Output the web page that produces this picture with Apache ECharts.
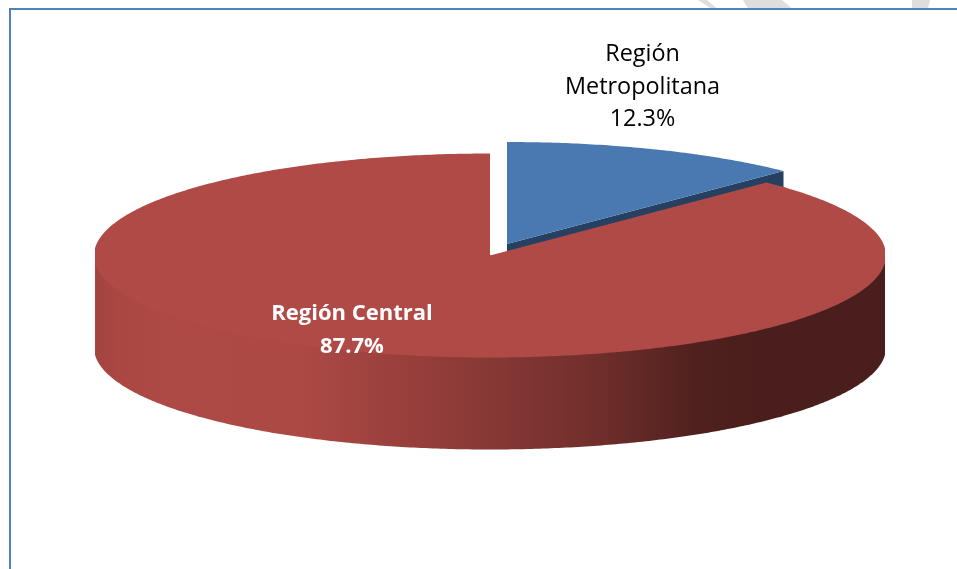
<!DOCTYPE html>
<html><head><meta charset="utf-8">
<style>html,body{margin:0;padding:0;background:#fff}#c{width:957px;height:569px}</style>
<script src="https://cdn.jsdelivr.net/npm/echarts@6/dist/echarts.min.js"></script>
</head><body><div id="c"></div>
<script>
const categories = ['Región Metropolitana', 'Región Central'];
const shares = [12.3, 87.7];
const labelLines = [['Región', 'Metropolitana', '12.3%'], ['Región Central', '87.7%']];

const TOP = ['#4a79b2', '#af4a46'];
const RX = 396, RY = 102, DEPTH = 92;
const XMIN = 95, XMAX = 885;
const CENTERS = [[507, 244], [490, 255.5]];
const total = shares.reduce((a, b) => a + b, 0);
const toAngle = v => echarts.number.linearMap(v, [0, total], [0, Math.PI * 2]);

function pt(c, a, dy) {
  const x = c[0] + RX * Math.sin(a);
  return [Math.min(XMAX, Math.max(XMIN, x)), c[1] - RY * Math.cos(a) + (dy || 0)];
}
function arc(c, a0, a1, dy) {
  const n = Math.max(2, Math.ceil(Math.abs(a1 - a0) / 0.01));
  const out = [];
  for (let i = 0; i <= n; i++) out.push(pt(c, a0 + (a1 - a0) * i / n, dy));
  return out;
}
const wall = new echarts.graphic.LinearGradient(95, 0, 885, 0, [
  {offset: 0, color: '#a3433f'},
  {offset: 0.03, color: '#aa4743'},
  {offset: 0.09, color: '#ae4a46'},
  {offset: 0.26, color: '#ad4945'},
  {offset: 0.39, color: '#993f3c'},
  {offset: 0.52, color: '#843734'},
  {offset: 0.64, color: '#6f2e2b'},
  {offset: 0.76, color: '#4f211e'},
  {offset: 0.84, color: '#4a1e1c'},
  {offset: 1, color: '#4a1e1c'}
], true);

function renderItem(params, api) {
  const i = params.dataIndex;
  const start = shares.slice(0, i).reduce((a, b) => a + b, 0);
  const a0 = toAngle(start), a1 = toAngle(start + api.value(0));
  const c = CENTERS[i];
  const children = [];
  if (i === 0) {
    // radial cut face of the pulled-out slice, seen past the larger slice
    children.push({type: 'polygon', shape: {points: [c, pt(c, a1), pt(c, a1, DEPTH), [c[0], c[1] + DEPTH]]},
      style: {fill: '#254061'}});
  } else {
    // outer wall: chord across the pie, then the front rim lowered by the depth
    const from = Math.PI / 2, to = Math.PI * 1.5;
    children.push({type: 'polygon', shape: {points: [pt(c, from), pt(c, to)].concat(arc(c, to, from, DEPTH))}, style: {fill: wall}});
  }
  children.push({type: 'polygon', shape: {points: [c].concat(arc(c, a0, a1))}, style: {fill: TOP[i]}});
  return {type: 'group', children};
}
const deco = [
  [[698, 0], [707, 0], [717, 8.5], [711, 8.5]],
  [[743, 0], [782, 0], [792, 8.5], [748, 8.5]],
  [[912, 0], [930, 0], [928, 8.5], [912, 8.5]]
];
const chart = echarts.init(document.getElementById('c'), null, {renderer: 'canvas'});
chart.setOption({
  animation: false,
  backgroundColor: '#ffffff',
  graphic: {elements: [
    ...deco.map(p => ({type: 'polygon', silent: true, z: -2, shape: {points: p}, style: {fill: '#dedede'}})),
    {type: 'line', silent: true, z: -1, shape: {x1: 9, y1: 9, x2: 957, y2: 9}, style: {stroke: '#4f81bd', lineWidth: 2}},
    {type: 'line', silent: true, z: -1, shape: {x1: 10, y1: 8, x2: 10, y2: 569}, style: {stroke: '#4f81bd', lineWidth: 2}},
    {type: 'text', silent: true, z: 10, style: {x: 642.5, y: 87, text: labelLines[0].join('\n'), align: 'center', verticalAlign: 'middle',
      fontFamily: 'Open Sans', fontSize: 23.4, lineHeight: 32.5, fill: '#000'}},
    {type: 'text', silent: true, z: 10, style: {x: 352, y: 330, text: labelLines[1].join('\n'), align: 'center', verticalAlign: 'middle',
      fontFamily: 'Open Sans', fontSize: 22, fontWeight: 'bold', lineHeight: 32.5, fill: '#fff'}}
  ]},
  series: [{
    type: 'custom',
    coordinateSystem: 'none',
    name: 'Participación',
    data: shares.map((v, i) => ({name: categories[i], value: [v]})),
    renderItem
  }]
});
</script></body></html>
